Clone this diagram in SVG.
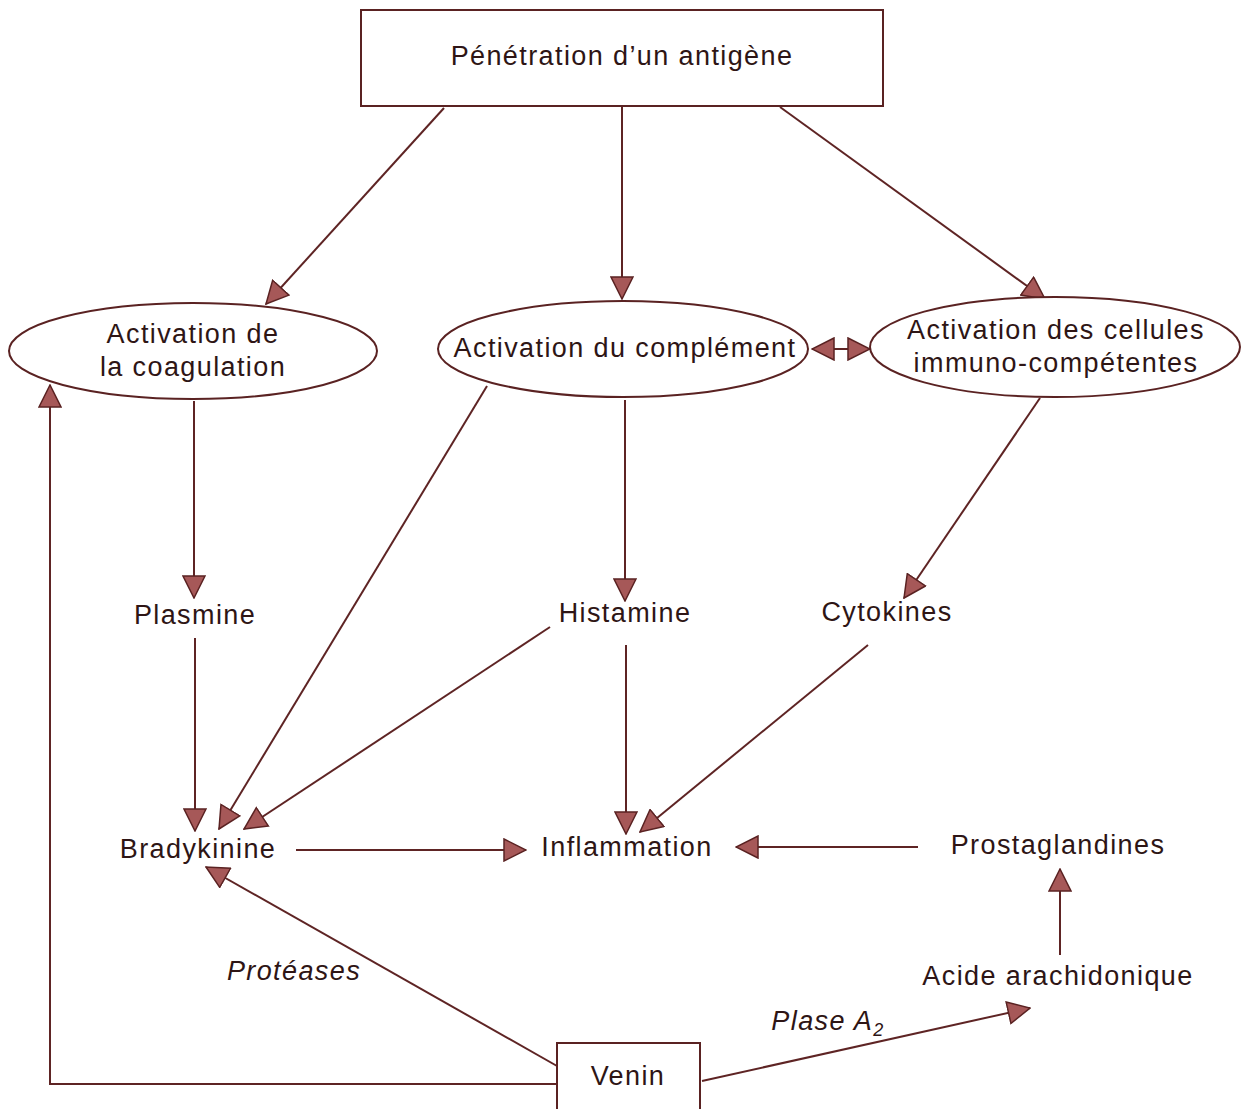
<svg xmlns="http://www.w3.org/2000/svg" width="1242" height="1109" viewBox="0 0 1242 1109">
<defs>
<style>
.t{font-family:"Liberation Sans",Arial,sans-serif;font-size:27px;fill:#2e1515;text-anchor:middle;letter-spacing:1.4px}
.i{font-style:italic}
.s{fill:#fff;stroke:#5a2222;stroke-width:2}
.c line,.c polyline{stroke:#5e2424;stroke-width:2;fill:none}
</style>
<marker id="a" viewBox="0 0 24 24" refX="23" refY="12" markerWidth="24" markerHeight="24" markerUnits="userSpaceOnUse" orient="auto">
<path d="M1,1 L23,12 L1,23 Z" fill="#a65858" stroke="#5a2222" stroke-width="1.5"/>
</marker>
<marker id="b" viewBox="0 0 24 24" refX="1" refY="12" markerWidth="24" markerHeight="24" markerUnits="userSpaceOnUse" orient="auto">
<path d="M23,1 L1,12 L23,23 Z" fill="#a65858" stroke="#5a2222" stroke-width="1.5"/>
</marker>
</defs>
<rect width="1242" height="1109" fill="#fff"/>
<g class="c" id="connectors">
<line x1="444" y1="108" x2="266" y2="304" marker-end="url(#a)"/>
<line x1="622" y1="107" x2="622" y2="299" marker-end="url(#a)"/>
<line x1="780" y1="107" x2="1045" y2="299" marker-end="url(#a)"/>
<line x1="812" y1="349" x2="870" y2="349" marker-start="url(#b)" marker-end="url(#a)"/>
<line x1="194" y1="401" x2="194" y2="598" marker-end="url(#a)"/>
<line x1="195" y1="638" x2="195" y2="831" marker-end="url(#a)"/>
<line x1="487" y1="386" x2="219" y2="829" marker-end="url(#a)"/>
<line x1="550" y1="627" x2="244" y2="829" marker-end="url(#a)"/>
<line x1="625" y1="400" x2="625" y2="601" marker-end="url(#a)"/>
<line x1="626" y1="645" x2="626" y2="834" marker-end="url(#a)"/>
<line x1="1040" y1="398" x2="904" y2="598" marker-end="url(#a)"/>
<line x1="868" y1="645" x2="640" y2="832" marker-end="url(#a)"/>
<line x1="296" y1="850" x2="526" y2="850" marker-end="url(#a)"/>
<line x1="918" y1="847" x2="736" y2="847" marker-end="url(#a)"/>
<line x1="1060" y1="955" x2="1060" y2="869" marker-end="url(#a)"/>
<line x1="557" y1="1066" x2="206" y2="867" marker-end="url(#a)"/>
<line x1="702" y1="1081" x2="1030" y2="1008" marker-end="url(#a)"/>
<polyline points="557,1084 50,1084 50,385" marker-end="url(#a)"/>
</g>
<g id="penetration">
<rect class="s" x="361" y="10" width="522" height="96"/>
<text class="t" x="622" y="65">Pénétration d’un antigène</text>
</g>
<g id="coagulation">
<ellipse class="s" cx="193" cy="351" rx="184" ry="48"/>
<text class="t" x="193" y="343">Activation de</text>
<text class="t" x="193" y="376">la coagulation</text>
</g>
<g id="complement">
<ellipse class="s" cx="623" cy="349" rx="185" ry="48"/>
<text class="t" x="625" y="357">Activation du complément</text>
</g>
<g id="cellules">
<ellipse class="s" cx="1055" cy="347" rx="185" ry="50"/>
<text class="t" x="1056" y="339">Activation des cellules</text>
<text class="t" x="1056" y="372">immuno-compétentes</text>
</g>
<g id="plasmine"><text class="t" x="195" y="624">Plasmine</text></g>
<g id="histamine"><text class="t" x="625" y="622">Histamine</text></g>
<g id="cytokines"><text class="t" x="887" y="621">Cytokines</text></g>
<g id="bradykinine"><text class="t" x="198" y="858">Bradykinine</text></g>
<g id="inflammation"><text class="t" x="627" y="856">Inflammation</text></g>
<g id="prostaglandines"><text class="t" x="1058" y="854">Prostaglandines</text></g>
<g id="acide"><text class="t" x="1058" y="985">Acide arachidonique</text></g>
<g id="proteases"><text class="t i" x="294" y="980">Protéases</text></g>
<g id="plase"><text class="t i" x="828" y="1030">Plase A<tspan font-size="18" dy="6">2</tspan></text></g>
<g id="venin">
<rect class="s" x="557" y="1043" width="143" height="70"/>
<text class="t" x="628" y="1085">Venin</text>
</g>
</svg>
